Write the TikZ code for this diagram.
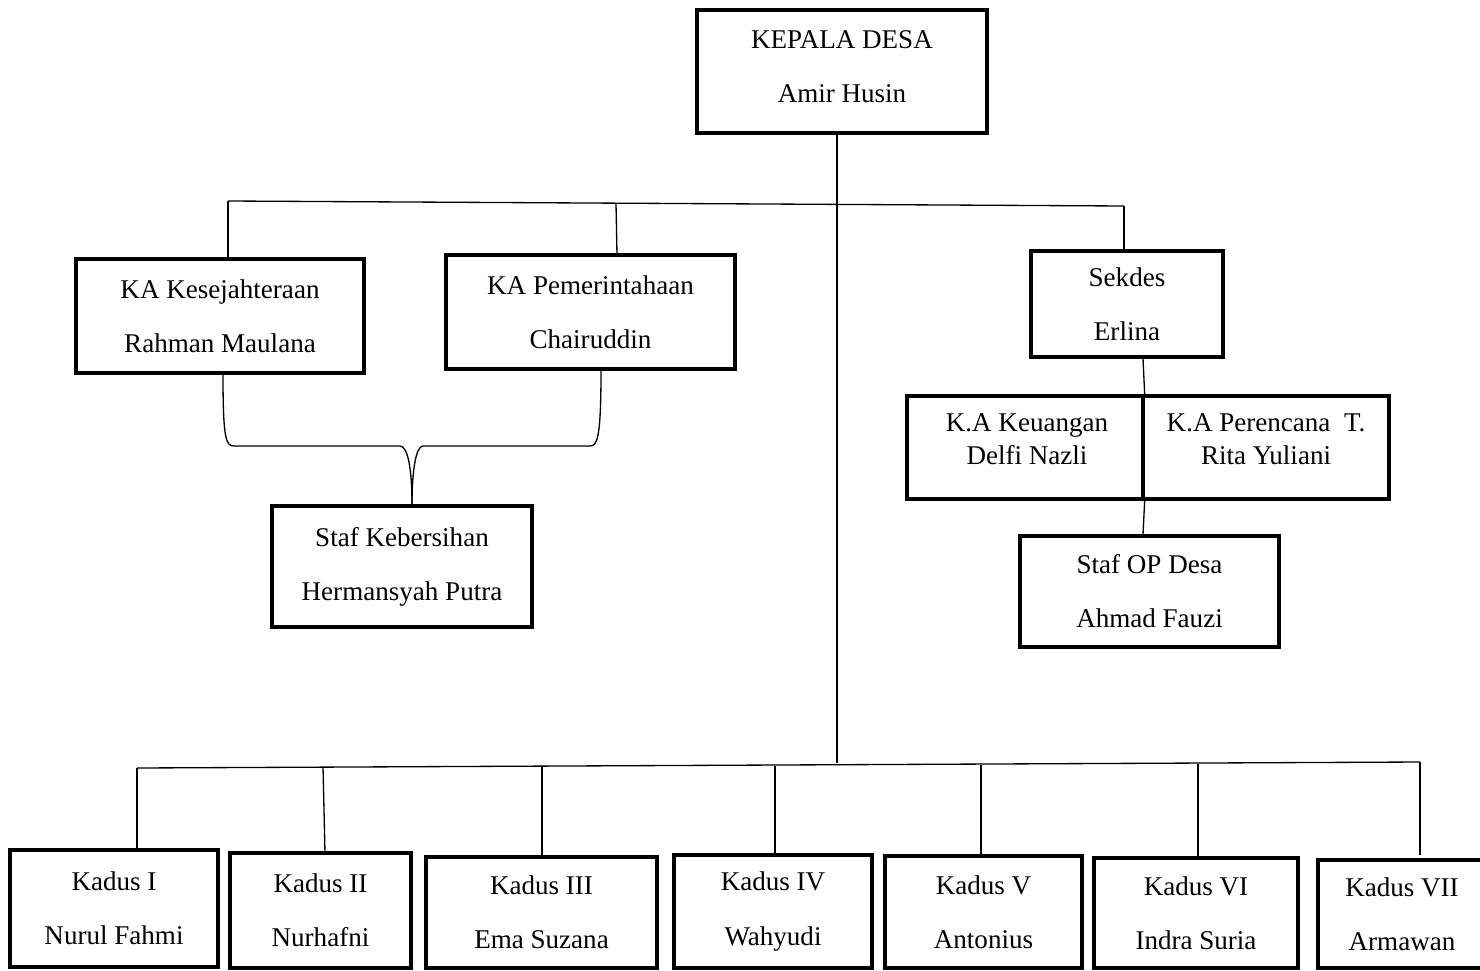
\documentclass[tikz,border=0pt]{standalone}
\usepackage{fontspec}
\setmainfont{Liberation Serif}
\newcommand\orgbox[6]{%
  \node[box,minimum width={(#4-#2)*0.02cm},minimum height={(#5-#3)*0.02cm}]
    (#1) at ({(#2+#4)/2},{(#3+#5)/2}) {#6};}
\begin{document}
\begin{tikzpicture}[x=0.02cm,y=-0.02cm,
  box/.style={draw,line width=1.9pt,inner sep=0pt,align=center,
    font=\fontsize{15.4}{18.5}\selectfont},
  txt/.style={inner sep=0pt,align=center,font=\fontsize{15.4}{18.5}\selectfont},
  conn/.style={line width=0.75pt}]
\useasboundingbox (0,0) rectangle (1480,970);
\clip (0,0) rectangle (1480,970);

% boxes
\orgbox{kd}{697}{10}{987}{133}{}
\node[txt] (kdt) at (842,66.5) {KEPALA DESA\\[12.3pt]Amir Husin};
\orgbox{kes}{76}{259}{364}{373}{KA Kesejahteraan\\[12.3pt]Rahman Maulana}
\orgbox{pem}{446}{255}{735}{369}{KA Pemerintahaan\\[12.3pt]Chairuddin}
\orgbox{sek}{1031}{251}{1223}{357}{Sekdes\\[12.3pt]Erlina}
\orgbox{keu}{907}{396}{1143}{499}{}
\orgbox{per}{1143}{396}{1389}{499}{}
\node[txt] (keut) at (1027,439) {K.A Keuangan\\Delfi Nazli};
\node[txt] (pert) at (1266,439) {K.A Perencana\ \ T.\\Rita Yuliani};
\orgbox{op}{1020}{536}{1279}{647}{Staf OP Desa\\[12.3pt]Ahmad Fauzi}
\orgbox{keb}{272}{506}{532}{627}{Staf Kebersihan\\[12.3pt]Hermansyah Putra}

\orgbox{k1}{10}{850}{218}{967}{Kadus I\\[12.3pt]Nurul Fahmi}
\orgbox{k2}{230}{853}{411}{968}{Kadus II\\[12.3pt]Nurhafni}
\orgbox{k3}{426}{857}{657}{968}{Kadus III\\[12.3pt]Ema Suzana}
\orgbox{k4}{674}{855}{872}{968}{Kadus IV\\[12.3pt]Wahyudi}
\orgbox{k5}{885}{856}{1082}{968}{Kadus V\\[12.3pt]Antonius}
\orgbox{k6}{1094}{858}{1298}{968}{Kadus VI\\[12.3pt]Indra Suria}
\orgbox{k7}{1318}{860}{1486}{968}{Kadus VII\\[12.3pt]Armawan}

% connector coordinates
\coordinate (tl) at (228,201);
\coordinate (tr) at (1124,206);
\coordinate (t2) at (616,203.7);
\coordinate (mainend) at (837,763);
\coordinate (bl) at (137,768);
\coordinate (br) at (1420,762);

% main trunk
\draw[conn] (kd.south -| 837,0) -- (mainend);
% top bus
\draw[conn] (tl) -- (tr);
\draw[conn] (tl) -- (tl |- kes.north);
\draw[conn] (t2) -- (617,255) coordinate (p2) -- (p2 |- pem.north);
\draw[conn] (tr) -- (tr |- sek.north);
% sekdes branch
\draw[conn] (sek.south -| 1143,0) -- (keu.north east);
\draw[conn] (keu.south east) -- (op.north -| 1143,0);
% brace to staf kebersihan
\draw[conn] (kes.south -| 223,0) .. controls (223,440) and (226,446) .. (234,446)
  -- (400,446) .. controls (408,446) and (412,470) .. (keb.north -| 412,0);
\draw[conn] (pem.south -| 601,0) .. controls (601,440) and (597,446) .. (590,446)
  -- (423,446) .. controls (416,446) and (412,470) .. (keb.north -| 412,0);

% bottom bus
\draw[conn] (bl) -- (br);
\draw[conn] (bl) -- (bl |- k1.north);
\draw[conn] (323,767) -- (325,853) coordinate (d2) -- (d2 |- k2.north);
\draw[conn] (542,766.5) -- (542,857) coordinate (d3) -- (d3 |- k3.north);
\draw[conn] (775,765.5) -- (775,855) coordinate (d4) -- (d4 |- k4.north);
\draw[conn] (981,764.5) -- (981,856) coordinate (d5) -- (d5 |- k5.north);
\draw[conn] (1198,763.5) -- (1198,858) coordinate (d6) -- (d6 |- k6.north);
\draw[conn] (br) -- (1420,855) coordinate (d7);
\end{tikzpicture}
\end{document}
